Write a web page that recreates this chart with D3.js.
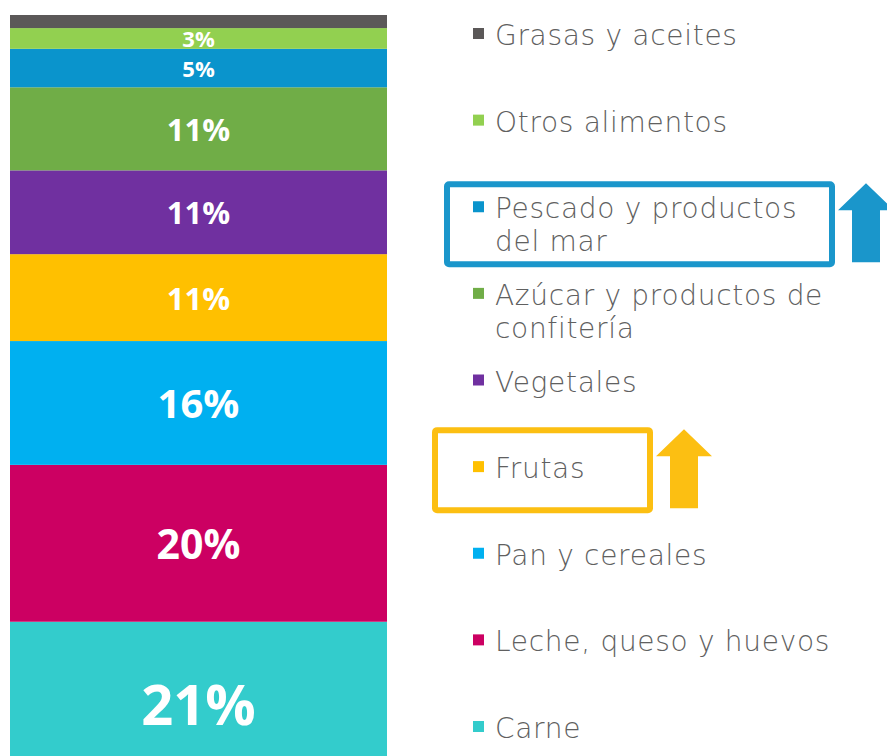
<!DOCTYPE html>
<html>
<head>
<meta charset="utf-8">
<script src="https://cdn.jsdelivr.net/npm/d3@7"></script>
<style>
  body { margin: 0; background: #fff; overflow: hidden; }
  svg { display: block; }
</style>
</head>
<body>
<svg id="chart" width="887" height="756"></svg>
<script>
// top to bottom, as in the picture
var categories = ["Grasas y aceites", "Otros alimentos", "Pescado y productos del mar",
    "Azúcar y productos de confitería", "Vegetales", "Frutas", "Pan y cereales",
    "Leche, queso y huevos", "Carne"];
// shares (printed labels are rounded)
var shares = [1.7, 2.7, 5.0, 10.8, 10.9, 11.3, 16.1, 20.4, 21.1];
var shareLabels = ["", "3%", "5%", "11%", "11%", "11%", "16%", "20%", "21%"];
var legendLines = [["Grasas y aceites"], ["Otros alimentos"], ["Pescado y productos", "del mar"],
    ["Azúcar y productos de", "confitería"], ["Vegetales"], ["Frutas"], ["Pan y cereales"],
    ["Leche, queso y huevos"], ["Carne"]];
var highlighted = ["Pescado y productos del mar", "Frutas"];

var colours = {
    "Grasas y aceites": "#5b5858",
    "Otros alimentos": "#92d050",
    "Pescado y productos del mar": "#0a94cc",
    "Azúcar y productos de confitería": "#70ad47",
    "Vegetales": "#7030a0",
    "Frutas": "#ffc000",
    "Pan y cereales": "#00b0f0",
    "Leche, queso y huevos": "#cc0062",
    "Carne": "#33cccc"
};
var labelSize = { "3%": 22, "5%": 22, "11%": 31, "16%": 40, "20%": 41, "21%": 56 };

var svg = d3.select("#chart");

// one stacked column, bottom (Carne) first
var row = {};
categories.forEach(function(c, i) { row[c] = shares[i]; });
var stack = d3.stack().keys(categories.slice().reverse());
var series = stack([row]);

var y = d3.scaleLinear().domain([0, 100]).range([784, 15]);
var x = d3.scaleBand().domain(["total"]).range([10, 387]).padding(0);

var seg = svg.append("g")
    .selectAll("g")
    .data(series)
    .enter().append("g");

seg.append("rect")
    .attr("x", x("total"))
    .attr("width", x.bandwidth())
    .attr("y", function(d) { return y(d[0][1]); })
    .attr("height", function(d) { return y(d[0][0]) - y(d[0][1]); })
    .attr("fill", function(d) { return colours[d.key]; });

seg.append("text")
    .attr("x", x("total") + x.bandwidth() / 2)
    .attr("y", function(d) { return (y(d[0][0]) + y(d[0][1])) / 2; })
    .attr("text-anchor", "middle")
    .attr("dominant-baseline", "central")
    .attr("fill", "#fff")
    .attr("font-family", "'Open Sans', sans-serif")
    .attr("font-weight", 700)
    .attr("font-size", function(d) { return labelSize[shareLabels[categories.indexOf(d.key)]] || 20; })
    .text(function(d) { return shareLabels[categories.indexOf(d.key)]; });

// legend
var ly = d3.scalePoint().domain(categories).range([45, 738]);
var lineGap = 33;

var legend = svg.append("g")
    .selectAll("g")
    .data(categories)
    .enter().append("g")
    .attr("transform", function(d) { return "translate(0," + ly(d) + ")"; });

legend.append("rect")
    .attr("x", 473)
    .attr("y", -17)
    .attr("width", 11)
    .attr("height", 11)
    .attr("fill", function(d) { return colours[d]; });

// one text per line so wrapped labels don't overlap
legend.selectAll("text")
    .data(function(d) { return legendLines[categories.indexOf(d)]; })
    .enter().append("text")
    .attr("x", 495)
    .attr("y", function(d, i) { return i * lineGap; })
    .attr("fill", "#606060")
    .attr("font-family", "'DejaVu Sans', sans-serif")
    .attr("font-weight", 200)
    .attr("font-size", 28)
    .attr("letter-spacing", 0.7)
    .text(function(d) { return d; });

// highlight boxes and up arrows
var marks = [
    { key: "Pescado y productos del mar", colour: "#1a96cb", x0: 447, x1: 832, top: 34, bottom: 46, ax: 866 },
    { key: "Frutas", colour: "#fcbf12", x0: 435, x1: 650, top: 48, bottom: 32, ax: 684 }
];

marks.forEach(function(m) {
    var base = ly(m.key);
    var t = base - m.top, b = base + m.bottom;
    svg.append("rect")
        .attr("x", m.x0)
        .attr("y", t)
        .attr("width", m.x1 - m.x0)
        .attr("height", b - t)
        .attr("rx", 2)
        .attr("fill", "none")
        .attr("stroke", m.colour)
        .attr("stroke-width", 6);

    var tip = t - 1, neck = tip + 27, foot = b - 2;
    var p = d3.path();
    p.moveTo(m.ax, tip);
    p.lineTo(m.ax + 28, neck);
    p.lineTo(m.ax + 14, neck);
    p.lineTo(m.ax + 14, foot);
    p.lineTo(m.ax - 14, foot);
    p.lineTo(m.ax - 14, neck);
    p.lineTo(m.ax - 28, neck);
    p.closePath();
    svg.append("path")
        .attr("d", p.toString())
        .attr("fill", m.colour);
});
</script>
</body>
</html>
